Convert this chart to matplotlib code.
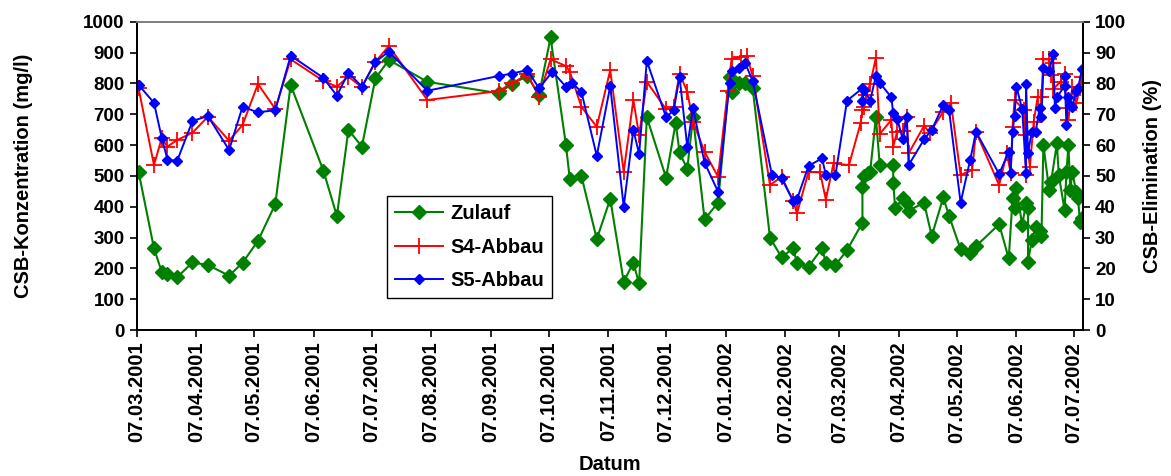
import pandas as pd
import numpy as np
import matplotlib
matplotlib.use('Agg')
import matplotlib.pyplot as plt
import matplotlib.dates as mdates

plt.rcParams['font.family'] = ['Liberation Sans', 'DejaVu Sans']
plt.rcParams['font.weight'] = 'bold'

# Messbeginn, Tage seit Beginn je Probe
start = pd.Timestamp('2001-03-07')
ende = pd.Timestamp('2002-07-11 16:00')

# Zulauf, CSB in mg/l
tage_zulauf = [1, 9, 13, 16, 21, 29, 37, 48, 55, 63, 72, 80, 97, 104, 110, 117,
               124, 131, 151, 188, 195, 203, 209, 215, 223, 225, 231, 239,
               246, 253, 258, 261, 265, 275, 280, 282, 286, 289, 295, 302, 308, 309,
               313, 316, 320, 329, 335, 341, 343, 349, 356, 358, 363,
               369, 377, 377, 378, 380, 381, 384, 386, 393, 393, 394, 398, 400, 401,
               409, 413, 419, 422, 428, 433, 436, 448, 453, 455, 456, 457, 460, 462,
               463, 463, 465, 467, 469, 470, 471, 474, 475, 478, 479, 482, 483, 484,
               485, 486, 488, 489, 490, 491]
zulauf = [513, 265, 189, 182, 171, 219, 211, 176, 218, 289, 408, 795, 517, 370, 649, 595,
          816, 876, 805, 768, 798, 824, 762, 949, 600, 489, 500, 295,
          425, 157, 218, 151, 690, 494, 672, 576, 522, 690, 359, 413, 821, 773,
          800, 802, 784, 299, 236, 265, 218, 205, 265, 218, 211,
          259, 348, 465, 499, 510, 513, 690, 535, 535, 478, 395, 427, 413, 387,
          413, 305, 430, 370, 262, 249, 272, 343, 232, 427, 395, 459, 341, 411,
          395, 222, 292, 335, 322, 305, 600, 454, 481, 605, 503, 389, 513, 600,
          454, 513, 449, 427, 351, 362]

# S4-Abbau, CSB-Elimination in %
tage_s4 = [1, 9, 13, 16, 21, 29, 37, 48, 55, 63, 72, 80, 97, 104, 110, 117,
           124, 131, 151, 188, 195, 203, 209, 215, 223, 225, 231, 239,
           246, 253, 258, 261, 265, 275, 279, 282, 286, 289, 295, 302, 307, 309,
           314, 317, 320, 329, 335, 341, 343, 349, 355, 358, 362,
           370, 376, 377, 378, 379, 381, 384, 386, 392, 393, 395, 398, 400, 401,
           409, 412, 419, 423, 428, 434, 436, 448, 452, 454, 455, 456, 461, 462,
           462, 464, 466, 468, 470, 471, 474, 475, 476, 476, 480, 482, 483, 484,
           486, 488, 490, 491]
s4 = [78.4, 53.5, 62.2, 59.5, 61.6, 64.0, 69.2, 61.4, 66.5, 79.8, 71.7, 87.8, 80.8, 78.9, 82.2, 78.7,
      87.0, 92.1, 74.6, 77.5, 80.0, 82.9, 75.7, 87.8, 85.6, 83.8, 72.4, 65.9,
      84.3, 51.3, 74.6, 63.2, 80.5, 71.6, 72.4, 83.2, 77.3, 67.6, 57.8, 49.7, 77.6, 87.8,
      88.6, 88.9, 82.4, 47.0, 49.7, 41.9, 37.8, 51.3, 51.1, 42.3, 54.1,
      53.5, 67.0, 71.3, 72.4, 76.2, 79.8, 88.3, 63.6, 68.1, 59.5, 64.3, 64.6, 69.2, 57.3,
      66.2, 64.0, 70.8, 73.5, 50.3, 51.9, 64.3, 47.0, 57.3, 51.0, 65.9, 74.6, 71.3, 50.3,
      63.2, 53.0, 67.6, 75.5, 75.5, 87.8, 87.8, 82.7, 86.5, 78.1, 80.6, 83.2, 71.9, 68.1,
      78.9, 73.5, 78.4, 82.2]

# S5-Abbau, CSB-Elimination in %
tage_s5 = [1, 9, 13, 16, 21, 29, 37, 48, 55, 63, 72, 80, 97, 104, 110, 117,
           124, 131, 151, 188, 195, 203, 209, 216, 223, 226, 231, 239,
           246, 253, 258, 261, 265, 275, 279, 282, 286, 289, 295, 302, 308, 309,
           313, 316, 320, 330, 335, 341, 343, 349, 356, 358, 363,
           369, 377, 377, 378, 381, 384, 386, 392, 393, 395, 398, 400, 401,
           409, 413, 419, 422, 428, 433, 436, 448, 453, 454, 455, 456, 457, 460,
           462, 462, 463, 465, 467, 469, 470, 471, 474, 476, 477, 478, 482, 482,
           483, 484, 485, 486, 488, 489, 491]
s5 = [79.5, 73.7, 62.4, 55.3, 54.8, 67.8, 69.4, 58.4, 72.4, 70.6, 71.3, 89.0, 81.8, 76.0, 83.5, 78.9,
      87.0, 90.3, 77.6, 82.4, 83.2, 84.3, 78.4, 83.8, 78.9, 80.2, 77.3, 56.5,
      79.1, 40.0, 64.9, 57.1, 87.3, 69.0, 71.3, 82.2, 59.5, 71.9, 54.3, 44.9, 80.2, 84.1,
      84.9, 86.7, 80.8, 50.3, 49.2, 41.9, 42.4, 53.2, 55.7, 50.3, 50.3,
      74.4, 78.4, 74.4, 77.8, 74.4, 82.4, 80.2, 75.5, 70.3, 68.6, 61.8, 69.0, 53.5,
      61.8, 64.9, 73.0, 71.3, 41.3, 55.3, 64.3, 50.6, 57.8, 51.0, 64.3, 69.4, 78.9, 71.6,
      50.8, 79.8, 57.5, 64.3, 64.3, 71.9, 69.0, 84.9, 84.0, 89.4, 71.9, 75.5, 79.1, 82.4,
      66.5, 75.5, 73.0, 72.4, 77.6, 78.4, 84.5]


def to_dates(tage):
    return start + pd.to_timedelta(tage, unit='D')


fig = plt.figure(figsize=(11.71, 4.76), dpi=100)
ax = fig.add_axes([0.1167, 0.3067, 0.8083, 0.6477])
ax2 = ax.twinx()

l1, = ax.plot(to_dates(tage_zulauf), zulauf, color='#008000', lw=1.5,
              marker='D', ms=7, label='Zulauf')
l2, = ax2.plot(to_dates(tage_s4), s4, color='#FF0000', lw=1.4,
               marker='+', ms=12, mew=1.3, label='S4-Abbau')
l3, = ax2.plot(to_dates(tage_s5), s5, color='#0000FF', lw=1.4,
               marker='D', ms=5, label='S5-Abbau')

ax.set_xlim(start, ende)
ax.set_ylim(0, 1000)
ax2.set_ylim(0, 100)
ax.set_yticks(np.arange(0, 1001, 100))
ax2.set_yticks(np.arange(0, 101, 10))

monate = pd.date_range('2001-03-07', '2002-07-07', freq=pd.DateOffset(months=1))
ax.set_xticks(monate)
ax.xaxis.set_major_formatter(mdates.DateFormatter('%d.%m.%Y'))

ax.tick_params(axis='y', direction='out', length=5, width=1.2, labelsize=13.5)
ax.tick_params(axis='x', direction='out', length=5, width=1.2, labelsize=14.5,
               labelrotation=90)
ax2.tick_params(axis='y', direction='out', length=5, width=1.2, labelsize=13.5)

for a in (ax, ax2):
    for s in ('left', 'right', 'bottom'):
        a.spines[s].set_color('black')
        a.spines[s].set_linewidth(1.3)
    a.spines['top'].set_color('#808080')
    a.spines['top'].set_linewidth(1.3)

ax.set_ylabel('CSB-Konzentration (mg/l)', fontsize=14.5, fontweight='bold')
ax2.set_ylabel('CSB-Elimination (%)', fontsize=14.5, fontweight='bold')
ax.set_xlabel('Datum', fontsize=14.5, fontweight='bold')
ax.yaxis.set_label_coords(-0.110, 0.5)
ax2.yaxis.set_label_coords(1.063, 0.5)
ax.xaxis.set_label_coords(0.5, -0.405)

leg = ax2.legend(handles=[l1, l2, l3], loc='lower left', bbox_to_anchor=(0.264, 0.103),
                 fancybox=False, framealpha=1, edgecolor='black',
                 fontsize=14.5, handlelength=2.4, handletextpad=0.35,
                 labelspacing=0.72, borderpad=0.4, borderaxespad=0)
leg.get_frame().set_linewidth(1.0)

fig.savefig('out.png', dpi=100)
